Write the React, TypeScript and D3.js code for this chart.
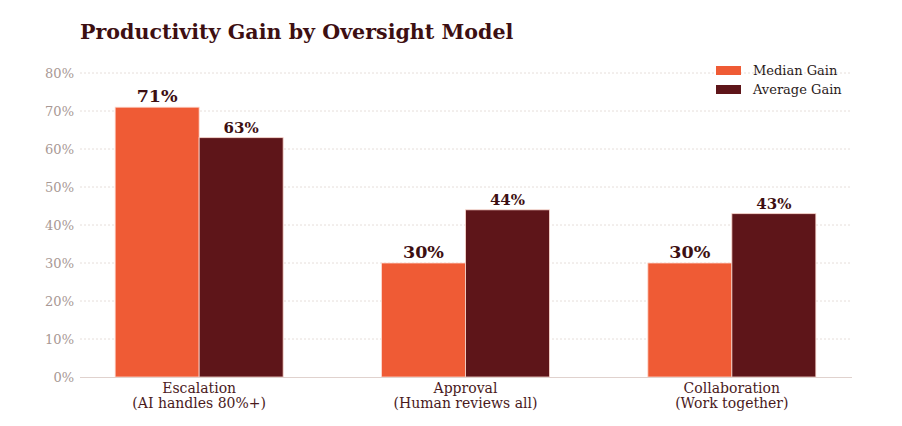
import React, { useEffect, useRef } from 'react';
import * as d3 from 'd3';

const categories = ['Escalation', 'Approval', 'Collaboration'];
const subtitles = ['(AI handles 80%+)', '(Human reviews all)', '(Work together)'];
const seriesNames = ['Median Gain', 'Average Gain'];
const medianGain = [71, 30, 30];
const averageGain = [63, 44, 43];
const yTicks = [0, 10, 20, 30, 40, 50, 60, 70, 80];

const colors = ['#EF5B35', '#5E1519'];
const FONT = '"DejaVu Serif", serif';

const App = () => {
  const ref = useRef(null);

  useEffect(() => {
    const W = 902,
      H = 426;
    const svg = d3.select(ref.current);
    svg.selectAll('*').remove();
    svg.attr('width', W).attr('height', H).style('font-family', FONT);

    const plotLeft = 80,
      plotRight = 852;

    const y = d3.scaleLinear().domain([0, 80]).range([377, 73]);
    const x0 = d3.scaleBand().domain(categories).range([66, 865]).padding(0);
    const x1 = d3
      .scaleBand()
      .domain(seriesNames)
      .range([x0.bandwidth() / 2 - 84, x0.bandwidth() / 2 + 84]);

    // Title
    svg
      .append('text')
      .attr('x', 80)
      .attr('y', 39)
      .style('font-size', '20.6px')
      .style('font-weight', 'bold')
      .style('fill', '#3D0F12')
      .text('Productivity Gain by Oversight Model');

    // grid + y ticks
    const grid = svg.append('g');
    yTicks.forEach((t) => {
      if (t > 0) {
        grid
          .append('line')
          .attr('x1', plotLeft)
          .attr('x2', plotRight)
          .attr('y1', y(t))
          .attr('y2', y(t))
          .attr('stroke', '#E6DEDA')
          .attr('stroke-width', 1)
          .attr('stroke-dasharray', '2,2');
      }
      grid
        .append('text')
        .attr('x', 74)
        .attr('y', y(t))
        .attr('dy', '0.35em')
        .attr('text-anchor', 'end')
        .style('font-size', '13px')
        .style('fill', '#A89894')
        .text(`${t}%`);
    });

    // bars
    const rows = categories.map((c, i) => ({
      cat: c,
      values: [medianGain[i], averageGain[i]],
    }));

    const groups = svg
      .selectAll('.grp')
      .data(rows)
      .enter()
      .append('g')
      .attr('transform', (d) => `translate(${x0(d.cat)},0)`);

    groups
      .selectAll('rect')
      .data((d) => d.values.map((v, j) => ({ v, j })))
      .enter()
      .append('rect')
      .attr('x', (d) => x1(seriesNames[d.j]))
      .attr('y', (d) => y(d.v))
      .attr('width', x1.bandwidth())
      .attr('height', (d) => y(0) - y(d.v))
      .attr('fill', (d) => colors[d.j])
      .attr('stroke', 'rgba(255,220,210,0.8)')
      .attr('stroke-width', 1);

    groups
      .selectAll('.val')
      .data((d) => d.values.map((v, j) => ({ v, j })))
      .enter()
      .append('text')
      .attr('x', (d) => x1(seriesNames[d.j]) + x1.bandwidth() / 2)
      .attr('y', (d) => y(d.v) - 5)
      .attr('text-anchor', 'middle')
      .style('font-size', (d) => (d.j === 0 ? '17.5px' : '15px'))
      .style('font-weight', 'bold')
      .style('fill', '#3D0F12')
      .text((d) => `${d.v}%`);

    // x axis line
    svg
      .append('line')
      .attr('x1', plotLeft)
      .attr('x2', plotRight)
      .attr('y1', y(0) + 0.5)
      .attr('y2', y(0) + 0.5)
      .attr('stroke', '#E0D2CE')
      .attr('stroke-width', 1);

    // category labels
    categories.forEach((c, i) => {
      const cx = x0(c) + x0.bandwidth() / 2;
      const t = svg
        .append('text')
        .attr('text-anchor', 'middle')
        .style('font-size', '14px')
        .style('fill', '#4A1A1C');
      t.append('tspan').attr('x', cx).attr('y', 393).text(c);
      t.append('tspan').attr('x', cx).attr('y', 408).text(subtitles[i]);
    });

    // legend
    const lg = svg.append('g').attr('transform', 'translate(716,66)');
    seriesNames.forEach((s, i) => {
      lg.append('rect')
        .attr('x', 0)
        .attr('y', i * 19)
        .attr('width', 25)
        .attr('height', 9)
        .attr('fill', colors[i]);
      lg.append('text')
        .attr('x', 37)
        .attr('y', i * 19 + 4.5)
        .attr('dy', '0.35em')
        .style('font-size', '13px')
        .style('fill', '#2A1A1A')
        .text(s);
    });
  }, []);

  return <svg ref={ref} style={{ position: 'absolute', left: 0, top: 0, display: 'block' }}></svg>;
};

export default App;
